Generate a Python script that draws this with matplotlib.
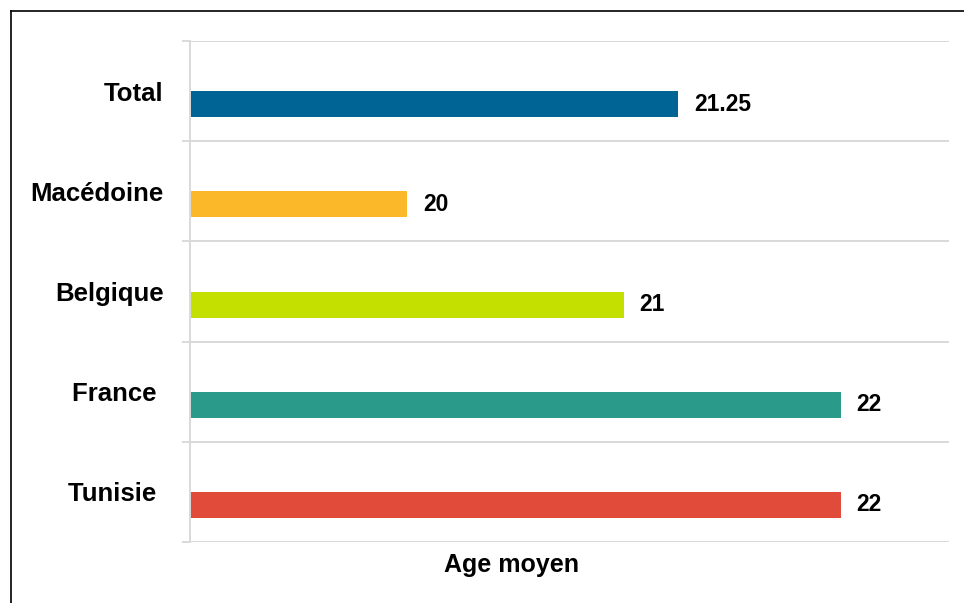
import matplotlib.pyplot as plt
from matplotlib.lines import Line2D

plt.rcParams["font.family"] = ["Liberation Sans", "DejaVu Sans"]

categories = ["Total", "Macédoine", "Belgique", "France ", "Tunisie "]
values = [21.25, 20, 21, 22, 22]
value_labels = ["21.25", "20", "21", "22", "22"]
colors = ["#006494", "#FBB829", "#C3E000", "#2A9B8B", "#E04B3A"]

fig = plt.figure(figsize=(9.64, 6.03), dpi=100)
W, H = 964, 603
ax = fig.add_axes([190 / W, 1 - 542 / H, (949 - 190) / W, (542 - 41) / H])

x_min, x_max = 19, 22.5
pos = list(range(len(categories)))
bar_h = 0.26

# bars sit just below the category centre (second slot of a cluster)
ax.barh([p + bar_h / 2 for p in pos], [v - x_min for v in values],
        left=x_min, height=bar_h, color=colors)

for p, v, lab in zip(pos, values, value_labels):
    ax.annotate(lab, (v, p + bar_h / 2), xytext=(11.5, 0), textcoords="offset points",
                ha="left", va="center", fontsize=16.5, fontweight="bold")

ax.set_xlim(x_min, x_max)
ax.set_ylim(len(categories) - 0.5, -0.5)

ax.set_yticks(pos)
ax.set_yticklabels(categories, fontsize=18.5, fontweight="bold")
ax.tick_params(axis="y", which="major", length=0, pad=19)
ax.set_yticks([p - 0.5 for p in pos] + [len(pos) - 0.5], minor=True)
ax.tick_params(axis="y", which="minor", length=6, width=1.4, color="#d9d9d9")
ax.grid(axis="y", which="minor", color="#d9d9d9", linewidth=1.4)
ax.set_xticks([])
ax.set_axisbelow(True)

for s in ["top", "right", "bottom"]:
    ax.spines[s].set_visible(False)
ax.spines["left"].set_color("#d9d9d9")
ax.spines["left"].set_linewidth(1.4)

fig.text(512 / W, 1 - 565 / H, "Age moyen", ha="center", va="center",
         fontsize=18, fontweight="bold")

# outer frame (left and top edges visible)
fig.add_artist(Line2D([11 / W, 11 / W], [0, 1 - 11 / H], color="black", linewidth=1.2))
fig.add_artist(Line2D([11 / W, 1], [1 - 11 / H, 1 - 11 / H], color="black", linewidth=1.2))

fig.savefig("out.png", dpi=100)
